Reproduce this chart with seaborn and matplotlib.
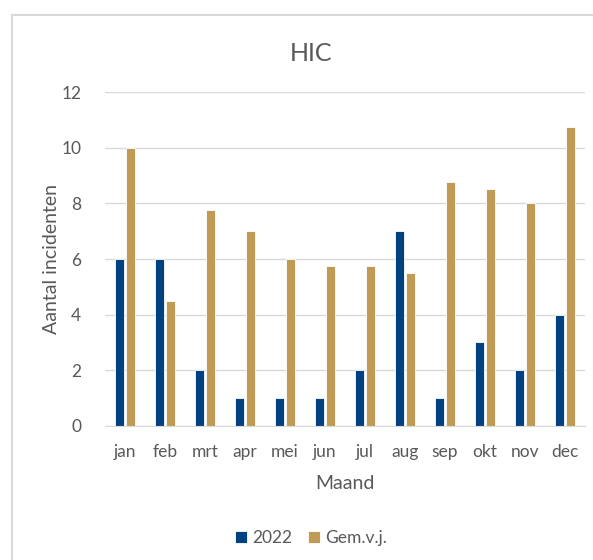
import matplotlib.pyplot as plt
import pandas as pd
import seaborn as sns
from matplotlib.patches import Rectangle

months = ["jan", "feb", "mrt", "apr", "mei", "jun", "jul", "aug", "sep", "okt", "nov", "dec"]
series_names = ["2022", "Gem.v.j."]
values_2022 = [6, 6, 2, 1, 1, 1, 2, 7, 1, 3, 2, 4]
values_gem = [10, 4.5, 7.75, 7, 6, 5.75, 5.75, 5.5, 8.75, 8.5, 8, 10.75]
colors = ["#00427F", "#BF9B55"]

df = pd.DataFrame({
    "Maand": months * 2,
    "Reeks": [series_names[0]] * 12 + [series_names[1]] * 12,
    "Aantal": values_2022 + values_gem,
})

sns.set_style("white")
plt.rcParams["font.family"] = ["Lato", "DejaVu Sans"]
text_color = "#595959"

fig = plt.figure(figsize=(5.93, 5.60), dpi=100)
ax = fig.add_axes([0.177, 0.2393, 0.8095, 0.5964])

sns.barplot(data=df, x="Maand", y="Aantal", hue="Reeks", palette=colors, saturation=1,
            width=0.55, gap=0.13, edgecolor="white", linewidth=0.6, ax=ax)

ax.set_ylim(0, 12)
ax.set_yticks(range(0, 13, 2))
ax.yaxis.grid(True, color="#D9D9D9", linewidth=1)
ax.set_axisbelow(True)
for side in ["top", "right", "left"]:
    ax.spines[side].set_visible(False)
ax.spines["bottom"].set_color("#D9D9D9")
ax.tick_params(axis="both", length=0, labelsize=12.5, labelcolor=text_color)
ax.tick_params(axis="x", pad=13)
ax.tick_params(axis="y", pad=17)
ax.set_xlabel("Maand", fontsize=14, color=text_color, labelpad=11)
ax.set_ylabel("Aantal incidenten", fontsize=14, color=text_color, labelpad=1)
ax.set_title("HIC", fontsize=18, color=text_color, pad=22, x=0.43)

handles, labels = ax.get_legend_handles_labels()
ax.legend(handles, labels, loc="center", bbox_to_anchor=(0.43, -0.335),
          ncol=2, frameon=False, fontsize=12.5, labelcolor=text_color,
          handlelength=0.7, handleheight=0.7, handletextpad=0.3, columnspacing=0.9)

fig.patches.append(Rectangle((11.5 / 593, -0.05), 1.0, 0.974 + 0.05, transform=fig.transFigure,
                             fill=False, edgecolor="#D9D9D9", linewidth=1.5))

fig.savefig("out.png", dpi=100)
